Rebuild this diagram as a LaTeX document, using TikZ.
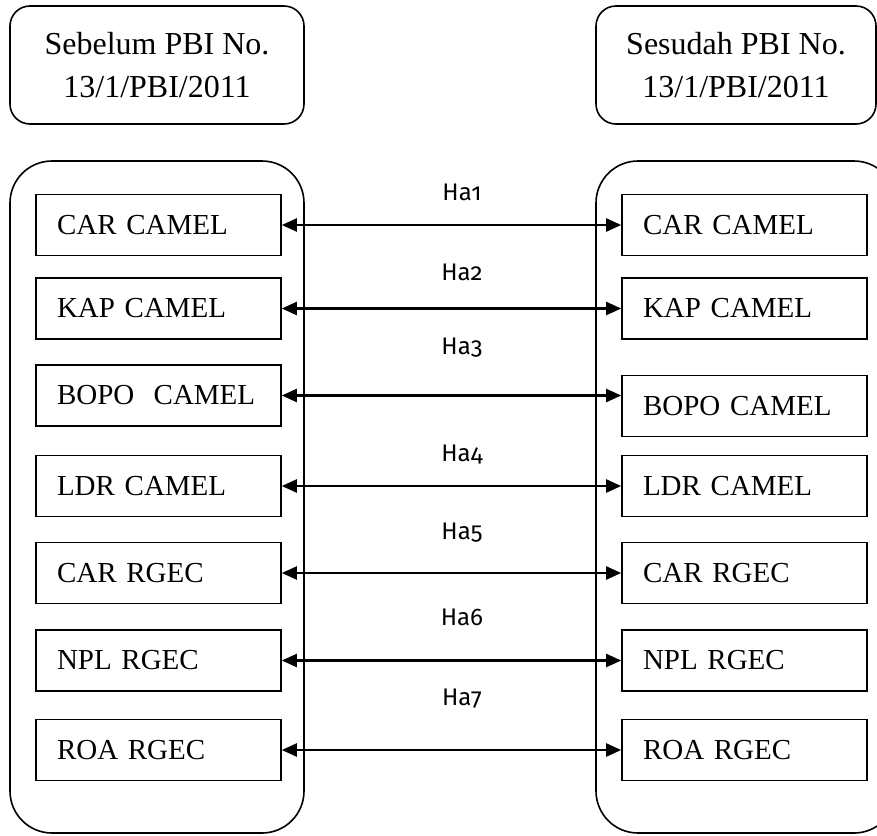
\documentclass[tikz,border=0pt]{standalone}
\usepackage{fontspec}
\setmainfont{Liberation Serif}
\newfontfamily\hafont[Numbers=OldStyle]{Fira Sans}
\usepackage{tikz}
\usetikzlibrary{arrows.meta,positioning}
\tikzstyle{title} = [rectangle, rounded corners=20pt, draw, line width=1.6pt, minimum width=294pt, minimum height=118pt, align=center, font=\fontsize{32}{43}\selectfont]
\tikzstyle{group} = [rectangle, rounded corners=42pt, draw, line width=1.6pt, minimum width=294pt, minimum height=672pt]
\tikzstyle{ratio} = [rectangle, draw, line width=1.6pt, minimum height=61pt, text width=203pt, inner xsep=21pt, align=left, font=\fontsize{29}{35}\selectfont]
\tikzstyle{arrow} = [line width=2.2pt, {Triangle[length=15pt,width=13pt]}-{Triangle[length=15pt,width=13pt]}]
\tikzstyle{hyp} = [font=\hafont\fontsize{24}{28}\selectfont]

\begin{document}
\begin{tikzpicture}[x=1pt, y=-1pt]
\clip (0,0) rectangle (877,835);
% Titles
\node (before) [title] at (157,65) {Sebelum PBI No.\\13/1/PBI/2011};
\node (after) [title, minimum width=280pt] at (736,65) {Sesudah PBI No.\\13/1/PBI/2011};

% Groups
\node (gbefore) [group] at (157,497) {};
\node (gafter) [group, minimum width=300pt] at (746,497) {};

% Ratios before
\node (l1) [ratio] at (158.5,225) {CAR CAMEL};
\node (l2) [ratio] at (158.5,308.5) {KAP CAMEL};
\node (l3) [ratio] at (158.5,395.5) {BOPO\ \ CAMEL};
\node (l4) [ratio] at (158.5,486) {LDR CAMEL};
\node (l5) [ratio] at (158.5,573) {CAR RGEC};
\node (l6) [ratio] at (158.5,660.5) {NPL RGEC};
\node (l7) [ratio] at (158.5,750) {ROA RGEC};

% Ratios after
\node (r1) [ratio] at (744.5,225) {CAR CAMEL};
\node (r2) [ratio] at (744.5,308.5) {KAP CAMEL};
\node (r3) [ratio] at (744.5,406) {BOPO CAMEL};
\node (r4) [ratio] at (744.5,486) {LDR CAMEL};
\node (r5) [ratio] at (744.5,573) {CAR RGEC};
\node (r6) [ratio] at (744.5,660.5) {NPL RGEC};
\node (r7) [ratio] at (744.5,750) {ROA RGEC};

% Arrows
\foreach \i in {1,...,7}
  \draw[arrow] (l\i.east) -- (l\i.east -| r\i.west);

% Hypotheses
\node (h1) [hyp] at (462,192) {Ha1};
\node (h2) [hyp] at (462,272) {Ha2};
\node (h3) [hyp] at (462,348) {Ha3};
\node (h4) [hyp] at (462,455) {Ha4};
\node (h5) [hyp] at (462,533) {Ha5};
\node (h6) [hyp] at (462,617) {Ha6};
\node (h7) [hyp] at (462,699) {Ha7};
\end{tikzpicture}
\end{document}
